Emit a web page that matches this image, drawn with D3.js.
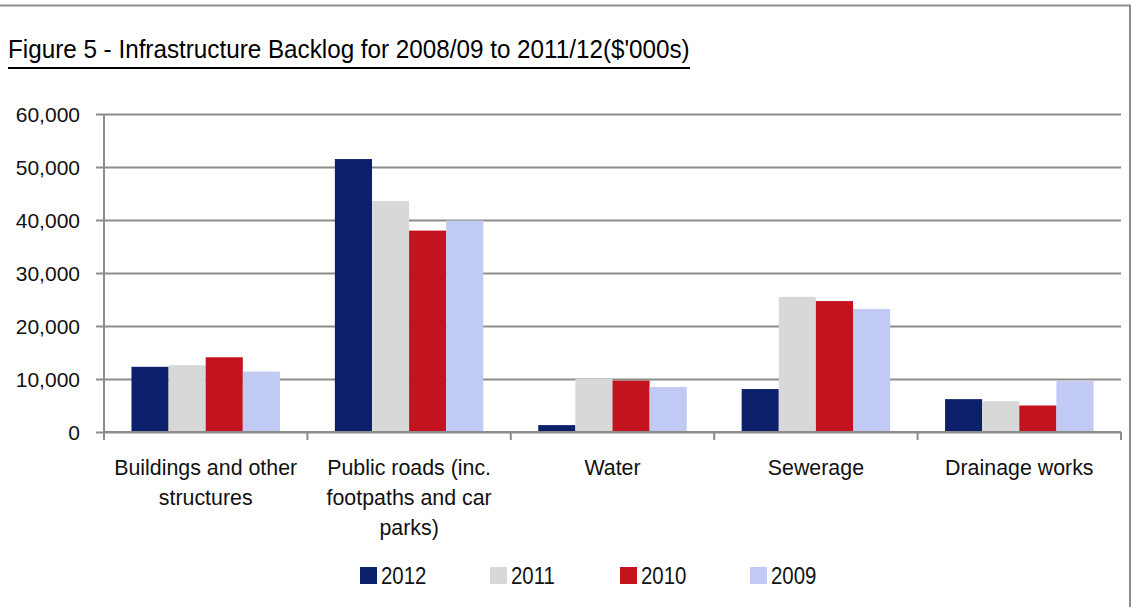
<!DOCTYPE html>
<html>
<head>
<meta charset="utf-8">
<script src="https://cdn.jsdelivr.net/npm/d3@7"></script>
<style>
  html, body { margin: 0; padding: 0; background: #fff; }
  svg { display: block; }
</style>
</head>
<body>
<svg id="chart" width="1131" height="607"></svg>
<script>
// Infrastructure backlog by asset class, $'000s
const categories = [
  ["Buildings and other", "structures"],
  ["Public roads (inc.", "footpaths and car", "parks)"],
  ["Water"],
  ["Sewerage"],
  ["Drainage works"]
];
const years = ["2012", "2011", "2010", "2009"];
const v2012 = [12300, 51500, 1300, 8100, 6200];
const v2011 = [12600, 43600, 10000, 25500, 5800];
const v2010 = [14100, 38000, 9700, 24700, 5000];
const v2009 = [11400, 39900, 8500, 23200, 9600];
const yTicks = [0, 10000, 20000, 30000, 40000, 50000, 60000];
const colors = ["#0c1f6b", "#d8d8d8", "#c3131f", "#c0caf5"];

const series = [v2012, v2011, v2010, v2009];
const catKeys = categories.map(c => c.join(" "));

const FONT = "'Liberation Sans', Arial, sans-serif";
const LABEL_SQUEEZE = 0.93; // horizontal squeeze for a narrower face

const svg = d3.select("#chart");
const W = 1131, H = 607;
const m = { left: 104, right: 10, top: 114, bottom: 175 };

// frame: top rule and right rule
svg.append("line").attr("x1", 0).attr("x2", W).attr("y1", 5.5).attr("y2", 5.5)
  .attr("stroke", "#8e8e8e").attr("stroke-width", 2);
svg.append("line").attr("x1", 1130).attr("x2", 1130).attr("y1", 5).attr("y2", H)
  .attr("stroke", "#8e8e8e").attr("stroke-width", 2);

// title, squeezed to a narrow face and underlined
const titleG = svg.append("g");
const title = titleG.append("text")
  .attr("font-family", FONT).attr("font-size", 26).attr("fill", "#000")
  .text("Figure 5 - Infrastructure Backlog for 2008/09 to 2011/12($'000s)");
const titleWidth = 682;
const tw = title.node().getComputedTextLength();
titleG.attr("transform", `translate(8,58) scale(${titleWidth / tw},1)`);
svg.append("line").attr("x1", 8).attr("x2", 8 + titleWidth).attr("y1", 68).attr("y2", 68)
  .attr("stroke", "#000").attr("stroke-width", 2);

const x0 = d3.scaleBand().domain(catKeys).range([m.left, W - m.right]).padding(0);
const x1 = d3.scaleBand().domain(years).range([0, x0.bandwidth()]).paddingInner(0).paddingOuter(0.74);
const y = d3.scaleLinear().domain([0, 60000]).range([H - m.bottom, m.top]);

// gridlines with left tick stubs
const yAxis = d3.axisLeft(y).tickValues(yTicks).tickSize(-(W - m.right - m.left)).tickSizeOuter(0)
  .tickFormat(d3.format(","));
const gy = svg.append("g").attr("transform", `translate(${m.left},0)`).call(yAxis);
gy.attr("font-family", FONT).attr("font-size", 21);
gy.select(".domain").remove();
gy.selectAll(".tick line").attr("x1", -8).attr("stroke", "#8c8c8c").attr("stroke-width", 2);
gy.selectAll(".tick text").attr("x", -24).attr("dy", "0.35em").attr("fill", "#111");

// y axis line
svg.append("line").attr("x1", m.left).attr("x2", m.left).attr("y1", y(60000)).attr("y2", y(0))
  .attr("stroke", "#8c8c8c").attr("stroke-width", 2);

// bars
const groups = svg.append("g").selectAll("g")
  .data(catKeys).join("g")
  .attr("transform", d => `translate(${x0(d)},0)`);
groups.selectAll("rect")
  .data((d, i) => years.map((yr, k) => ({ yr, k, v: series[k][i] })))
  .join("rect")
  .attr("x", d => x1(d.yr))
  .attr("width", x1.bandwidth())
  .attr("y", d => y(d.v))
  .attr("height", d => y(0) - y(d.v))
  .attr("fill", d => colors[d.k]);

// x axis with category boundary ticks
svg.append("line").attr("x1", m.left).attr("x2", W - m.right).attr("y1", y(0)).attr("y2", y(0))
  .attr("stroke", "#8c8c8c").attr("stroke-width", 2);
const bounds = catKeys.map(k => x0(k)).concat([W - m.right]);
svg.append("g").selectAll("line").data(bounds).join("line")
  .attr("x1", d => d).attr("x2", d => d)
  .attr("y1", y(0)).attr("y2", y(0) + 8)
  .attr("stroke", "#8c8c8c").attr("stroke-width", 2);

// category labels
const lbl = svg.append("g").selectAll("text").data(categories).join("text")
  .attr("font-family", FONT)
  .attr("text-anchor", "middle")
  .attr("font-size", 23)
  .attr("fill", "#111")
  .attr("transform", (d, i) =>
    `translate(${x0(catKeys[i]) + x0.bandwidth() / 2},${y(0) + 43}) scale(${LABEL_SQUEEZE},1)`);
lbl.selectAll("tspan").data(d => d).join("tspan")
  .attr("x", 0).attr("y", (d, i) => i * 30)
  .text(d => d);

// legend
const leg = svg.append("g").selectAll("g").data(years).join("g")
  .attr("transform", (d, i) => `translate(${360 + i * 130},0)`);
leg.append("rect").attr("x", 0).attr("y", 567).attr("width", 17).attr("height", 17)
  .attr("fill", (d, i) => colors[i]);
leg.append("text").attr("font-family", FONT)
  .attr("transform", `translate(21,584) scale(0.85,1)`)
  .attr("font-size", 24).attr("fill", "#111").text(d => d);
</script>
</body>
</html>
